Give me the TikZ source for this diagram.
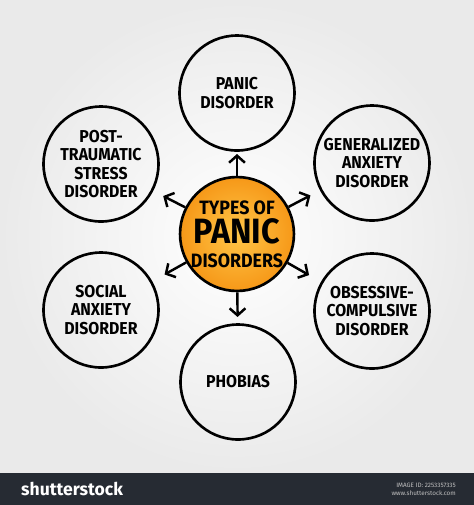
\documentclass[tikz,border=0pt]{standalone}
\usepackage{fontspec}
\setmainfont{Fira Sans}
\newfontfamily\handfont[FakeStretch=0.92]{Fira Sans}
\usetikzlibrary{arrows.meta,calc}
\definecolor{hubinner}{RGB}{255,198,72}
\definecolor{hubouter}{RGB}{246,152,24}
\definecolor{barcolor}{RGB}{38,43,51}
\definecolor{bggray}{RGB}{234,234,234}
\begin{document}
\begin{tikzpicture}[x=0.02cm, y=-0.02cm,
    topic/.style={circle, draw=black, line width=1.5pt, minimum size=2.3cm, inner sep=0pt, align=center,
      font=\handfont\bfseries\fontsize{9.8}{10.6}\selectfont},
    hub/.style={circle, draw=black, line width=1.5pt, inner color=hubinner, outer color=hubouter,
      minimum size=2.16cm, inner sep=0pt, align=center, font=\handfont\bfseries\fontsize{11}{12}\selectfont},
    arr/.style={line width=1.4pt, -{Straight Barb[length=4pt,width=9pt]}}]
            \useasboundingbox (0,0) rectangle (474,505);
            \shade[inner color=white, outer color=bggray] (0,0) rectangle (474,473);
            \fill[barcolor] (0,473) rectangle (474,505);
            \node[hub] (hub) at (237,234) {TYPES OF\\[1.5pt]{\fontsize{20}{20}\selectfont PANIC}\\[1.5pt]DISORDERS};
            \node[topic] (panic) at (237,93) {PANIC\\DISORDER};
            \node[topic] (gad) at (372,163) {GENERALIZED\\ANXIETY\\DISORDER};
            \node[topic] (ocd) at (372,311) {OBSESSIVE-\\COMPULSIVE\\DISORDER};
            \node[topic] (phob) at (238,382) {PHOBIAS};
            \node[topic] (social) at (101,310) {SOCIAL\\ANXIETY\\DISORDER};
            \node[topic] (ptsd) at (101,164) {POST-\\TRAUMATIC\\STRESS\\DISORDER};
            \draw[arr] (hub) -- ($(hub.center)!1.6cm!(panic.center)$);
            \draw[arr] (hub) -- ($(hub.center)!1.66cm!(gad.center)$);
            \draw[arr] (hub) -- ($(hub.center)!1.66cm!(ocd.center)$);
            \draw[arr] (hub) -- ($(hub.center)!1.66cm!(phob.center)$);
            \draw[arr] (hub) -- ($(hub.center)!1.66cm!(social.center)$);
            \draw[arr] (hub) -- ($(hub.center)!1.66cm!(ptsd.center)$);
            \node[anchor=west, text=white, font=\bfseries\fontsize{10}{10}\selectfont] (brand) at (15,489) {shutterstock};
            \node[anchor=east, align=right, text=white!75!black, font=\fontsize{3.6}{4.6}\selectfont] (imgid) at (462,489) {IMAGE ID: 2253357335\\www.shutterstock.com};
        \end{tikzpicture}
\end{document}
